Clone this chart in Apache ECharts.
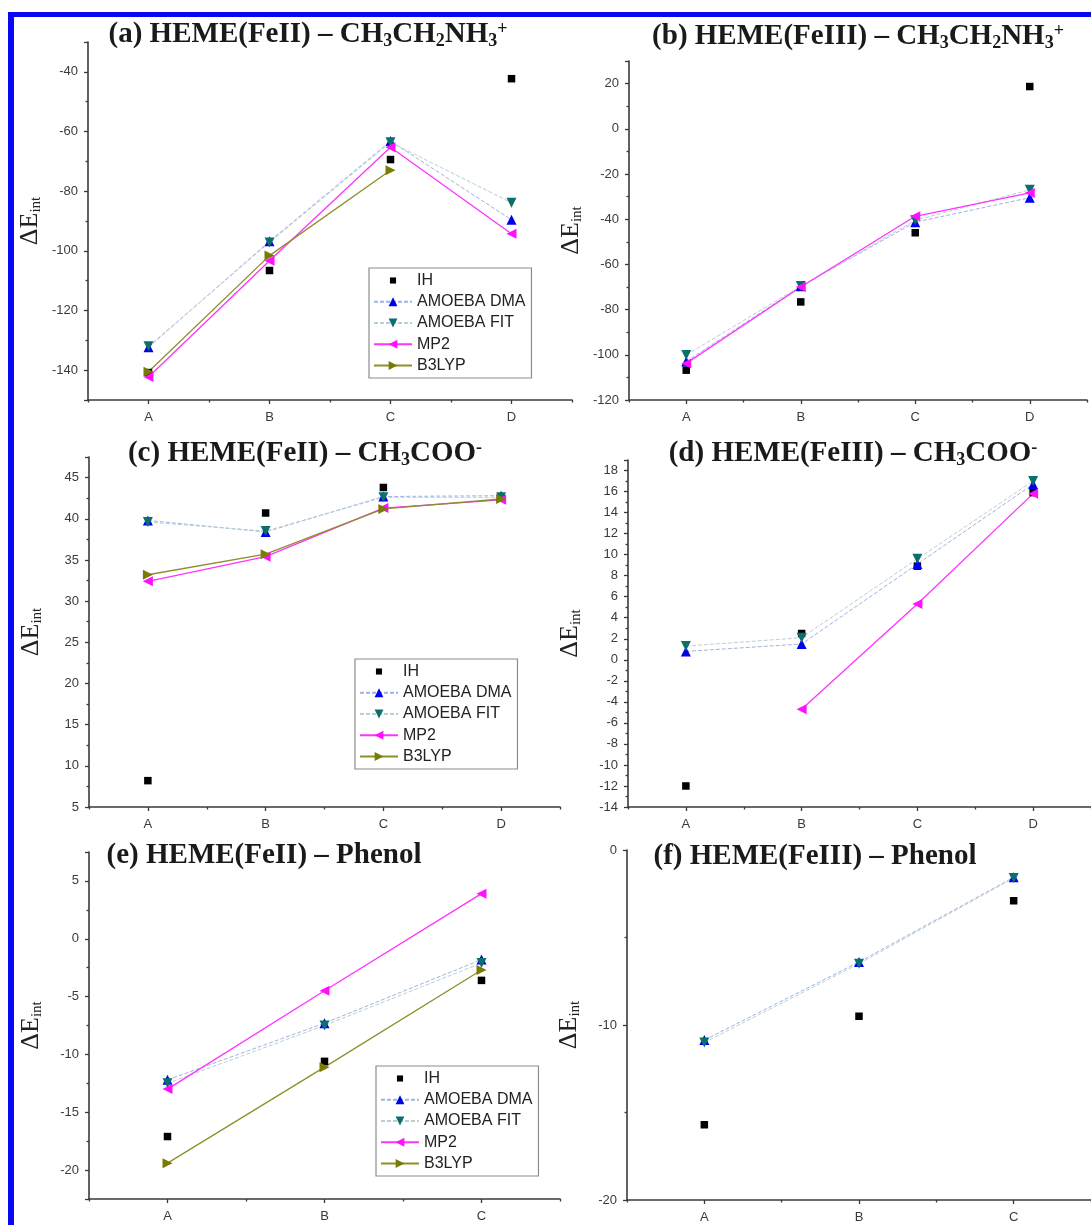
<!DOCTYPE html>
<html><head><meta charset="utf-8">
<script src="https://cdn.jsdelivr.net/npm/echarts@6/dist/echarts.min.js"></script>
<style>html,body{margin:0;padding:0;background:#fff}#c{width:1091px;height:1225px}</style>
</head><body><div id="c"></div>
<script>
// ---------- data ----------
const cats4 = ['A', 'B', 'C', 'D'];
const cats3 = ['A', 'B', 'C'];
const seriesNames = ['IH', 'AMOEBA DMA', 'AMOEBA FIT', 'MP2', 'B3LYP'];

// (a) HEME(FeII) – CH3CH2NH3+
const a_IH  = [-140.8, -106.6, -69.4, -42.3];
const a_DMA = [-132.3, -96.8, -63.2, -89.6];
const a_FIT = [-132.0, -97.2, -63.6, -83.9];
const a_MP2 = [-142.3, -103.3, -65.3, -94.3];
const a_B3  = [-140.5, -101.6, -73.0, null];
// (b) HEME(FeIII) – CH3CH2NH3+
const b_IH  = [-106.8, -76.6, -46.0, 18.7];
const b_DMA = [-103.0, -69.7, -41.3, -30.5];
const b_FIT = [-100.1, -69.6, -40.5, -27.0];
const b_MP2 = [-103.8, -70.0, -38.7, -28.4];
// (c) HEME(FeII) – CH3COO-
const c_IH  = [8.2, 40.7, 43.8, 42.6];
const c_DMA = [39.8, 38.4, 42.7, 42.8];
const c_FIT = [39.6, 38.5, 42.6, 42.6];
const c_MP2 = [32.4, 35.4, 41.3, 42.3];
const c_B3  = [33.2, 35.7, 41.2, 42.4];
// (d) HEME(FeIII) – CH3COO-
const d_IH  = [-12.0, 2.5, 8.9, 15.9];
const d_DMA = [0.8, 1.5, 9.1, 16.7];
const d_FIT = [1.3, 2.1, 9.6, 17.0];
const d_MP2 = [null, -4.7, 5.3, 15.8];
// (e) HEME(FeII) – Phenol
const e_IH  = [-17.1, -10.6, -3.6];
const e_DMA = [-12.2, -7.3, -1.8];
const e_FIT = [-12.5, -7.5, -2.1];
const e_MP2 = [-13.0, -4.5, 3.9];
const e_B3  = [-19.4, -11.1, -2.7];
// (f) HEME(FeIII) – Phenol
const f_IH  = [-15.7, -9.5, -2.9];
const f_DMA = [-10.86, -6.4, -1.56];
const f_FIT = [-11.0, -6.5, -1.6];

// y-axis ranges [min, max]
const a_yRange = [-150, -30];
const b_yRange = [-120, 30];
const c_yRange = [5, 47.5];
const d_yRange = [-14, 19];
const e_yRange = [-22.5, 7.5];
const f_yRange = [-20, 0];

// ---------- layout ----------
const panels = [
  { title: '{m|(a) HEME(FeII) – CH}{s|3}{m|CH}{s|2}{m|NH}{s|3}{p|+}', tx: 308, ty: 20,
    grid: { left: 88, top: 42, width: 484, height: 358 }, cats: cats4, yr: a_yRange, split: 6, hideMin: true, hideMax: true,
    data: { 'IH': a_IH, 'AMOEBA DMA': a_DMA, 'AMOEBA FIT': a_FIT, 'MP2': a_MP2, 'B3LYP': a_B3 },
    legend: { left: 369, top: 268 } },
  { title: '{m|(b) HEME(FeIII) – CH}{s|3}{m|CH}{s|2}{m|NH}{s|3}{p|+}', tx: 858, ty: 22,
    grid: { left: 629, top: 61, width: 458, height: 339 }, cats: cats4, yr: b_yRange, interval: 20, hideMax: true,
    data: { 'IH': b_IH, 'AMOEBA DMA': b_DMA, 'AMOEBA FIT': b_FIT, 'MP2': b_MP2 } },
  { title: '{m|(c) HEME(FeII) – CH}{s|3}{m|COO}{p|-}', tx: 305, ty: 439,
    grid: { left: 89, top: 457, width: 471, height: 350 }, cats: cats4, yr: c_yRange, interval: 5, hideMax: true,
    data: { 'IH': c_IH, 'AMOEBA DMA': c_DMA, 'AMOEBA FIT': c_FIT, 'MP2': c_MP2, 'B3LYP': c_B3 },
    legend: { left: 355, top: 659 } },
  { title: '{m|(d) HEME(FeIII) – CH}{s|3}{m|COO}{p|-}', tx: 853, ty: 439,
    grid: { left: 628, top: 460, width: 465, height: 347 }, cats: cats4, yr: d_yRange, interval: 2, hideMax: true,
    data: { 'IH': d_IH, 'AMOEBA DMA': d_DMA, 'AMOEBA FIT': d_FIT, 'MP2': d_MP2 } },
  { title: '{m|(e) HEME(FeII) – Phenol}', tx: 264, ty: 841,
    grid: { left: 89, top: 852, width: 471, height: 347 }, cats: cats3, yr: e_yRange, split: 6, hideMin: true, hideMax: true,
    data: { 'IH': e_IH, 'AMOEBA DMA': e_DMA, 'AMOEBA FIT': e_FIT, 'MP2': e_MP2, 'B3LYP': e_B3 },
    legend: { left: 376, top: 1066 } },
  { title: '{m|(f) HEME(FeIII) – Phenol}', tx: 815, ty: 842,
    grid: { left: 627, top: 850, width: 469, height: 350 }, cats: cats3, yr: f_yRange, interval: 10,
    data: { 'IH': f_IH, 'AMOEBA DMA': f_DMA, 'AMOEBA FIT': f_FIT } }
];

const styles = {
  'IH':         { symbol: 'rect', size: 7.5, rotate: 0, color: '#000000', line: null },
  'AMOEBA DMA': { symbol: 'triangle', size: 10, rotate: 0, color: '#0000f0', line: { color: '#9fb2e3', width: 1, type: [4, 2] } },
  'AMOEBA FIT': { symbol: 'triangle', size: 10, rotate: 180, color: '#0b6f6c', line: { color: '#b9cfd2', width: 1, type: [4, 2] } },
  'MP2':        { symbol: 'triangle', size: 10, rotate: 90, color: '#ff10ff', line: { color: '#ff33ff', width: 1.3, type: 'solid' } },
  'B3LYP':      { symbol: 'triangle', size: 10, rotate: -90, color: '#7a7a06', line: { color: '#8f8f2a', width: 1.3, type: 'solid' } }
};
// small square legend icon (padding in the path keeps it small)
const squareIcon = 'path://M-4,-4L-4,-4M14,14L14,14M0,0L10,0L10,10L0,10Z';

const axisColor = '#3a3a3a';
const tickFont = { fontFamily: 'Liberation Sans, Arial, sans-serif', fontSize: 13, color: '#3a3a3a' };
const titleFont = 29;

const grid = [], xAxis = [], yAxis = [], series = [], title = [], legend = [];
panels.forEach((p, i) => {
  grid.push(Object.assign({ containLabel: false }, p.grid));
  title.push({
    text: p.title, left: p.tx, top: p.ty, textAlign: 'center', padding: 0,
    textStyle: {
      fontFamily: 'Liberation Serif, Times New Roman, serif', fontWeight: 'bold', fontSize: titleFont, color: '#1a1a1a',
      rich: {
        m: { fontFamily: 'Liberation Serif', fontWeight: 'bold', fontSize: titleFont, lineHeight: 30, color: '#1a1a1a' },
        s: { fontFamily: 'Liberation Serif', fontWeight: 'bold', fontSize: 18, lineHeight: 10, verticalAlign: 'bottom', color: '#1a1a1a' },
        p: { fontFamily: 'Liberation Serif', fontWeight: 'bold', fontSize: 18, lineHeight: 14, verticalAlign: 'top', color: '#1a1a1a' }
      }
    }
  });
  // main category axis (labels + ticks at categories)
  xAxis.push({
    type: 'category', gridIndex: i, data: p.cats, boundaryGap: true, position: 'bottom',
    axisLine: { show: true, onZero: false, lineStyle: { color: axisColor, width: 1.6 } },
    axisTick: { show: true, alignWithLabel: true, length: 4, lineStyle: { color: axisColor, width: 1.3 } },
    axisLabel: Object.assign({ margin: 11 }, tickFont),
    splitLine: { show: false }
  });
  // helper axis: minor ticks between categories
  xAxis.push({
    type: 'category', gridIndex: i, data: p.cats, boundaryGap: true, position: 'bottom',
    axisLine: { show: false, onZero: false },
    axisTick: { show: true, alignWithLabel: false, length: 2.5, lineStyle: { color: axisColor, width: 1.3 } },
    axisLabel: { show: false }, splitLine: { show: false }
  });
  const y = {
    type: 'value', gridIndex: i, min: p.yr[0], max: p.yr[1],
    axisLine: { show: true, lineStyle: { color: axisColor, width: 1.6 } },
    axisTick: { show: true, length: 4, lineStyle: { color: axisColor, width: 1.3 } },
    minorTick: { show: true, splitNumber: 2, length: 2.5, lineStyle: { color: axisColor, width: 1.3 } },
    axisLabel: Object.assign({ margin: 10, showMinLabel: !p.hideMin, showMaxLabel: !p.hideMax }, tickFont),
    splitLine: { show: false },
    name: '{m|ΔE}{s|int}', nameLocation: 'middle', nameGap: 44, nameRotate: 90,
    nameTextStyle: {
      fontFamily: 'Liberation Serif', fontSize: 26, color: '#222',
      rich: {
        m: { fontFamily: 'Liberation Serif', fontSize: 26, lineHeight: 28, color: '#222' },
        s: { fontFamily: 'Liberation Serif', fontSize: 15, lineHeight: 8, verticalAlign: 'bottom', color: '#222' }
      }
    }
  };
  if (p.interval) y.interval = p.interval; else y.splitNumber = p.split;
  yAxis.push(y);

  seriesNames.forEach(name => {
    const d = p.data[name];
    if (!d) return;
    const st = styles[name];
    const s = {
      name: name, type: st.line ? 'line' : 'scatter', xAxisIndex: 2 * i, yAxisIndex: i,
      data: d, symbol: st.symbol, symbolSize: st.size, symbolRotate: st.rotate,
      itemStyle: { color: st.color, opacity: 1 }, z: 3,
      emphasis: { disabled: true }
    };
    if (st.line) {
      s.showAllSymbol = true;
      s.connectNulls = false;
      s.lineStyle = st.line;
    }
    series.push(s);
  });

  if (p.legend) {
    legend.push({
      left: p.legend.left, top: p.legend.top, orient: 'vertical',
      data: seriesNames.map(n => n === 'IH' ? { name: n, icon: squareIcon } : { name: n }),
      padding: [4, 6, 4, 4], itemGap: 4.25, itemWidth: 38, itemHeight: 11,
      backgroundColor: '#fff', borderColor: '#8c8c8c', borderWidth: 1.2, borderRadius: 0,
      selectedMode: false,
      textStyle: { fontFamily: 'Liberation Sans, Arial, sans-serif', fontSize: 16, lineHeight: 17, color: '#222' }
    });
  }
});

const chart = echarts.init(document.getElementById('c'), null, { renderer: 'canvas' });
chart.setOption({
  backgroundColor: '#fff',
  animation: false,
  title, grid, xAxis, yAxis, series, legend,
  graphic: [
    { type: 'rect', shape: { x: 8, y: 12, width: 1083, height: 5 }, style: { fill: '#0808f5' }, z: 10 },
    { type: 'rect', shape: { x: 8, y: 12, width: 6, height: 1213 }, style: { fill: '#0808f5' }, z: 10 }
  ]
});
</script>
</body></html>
